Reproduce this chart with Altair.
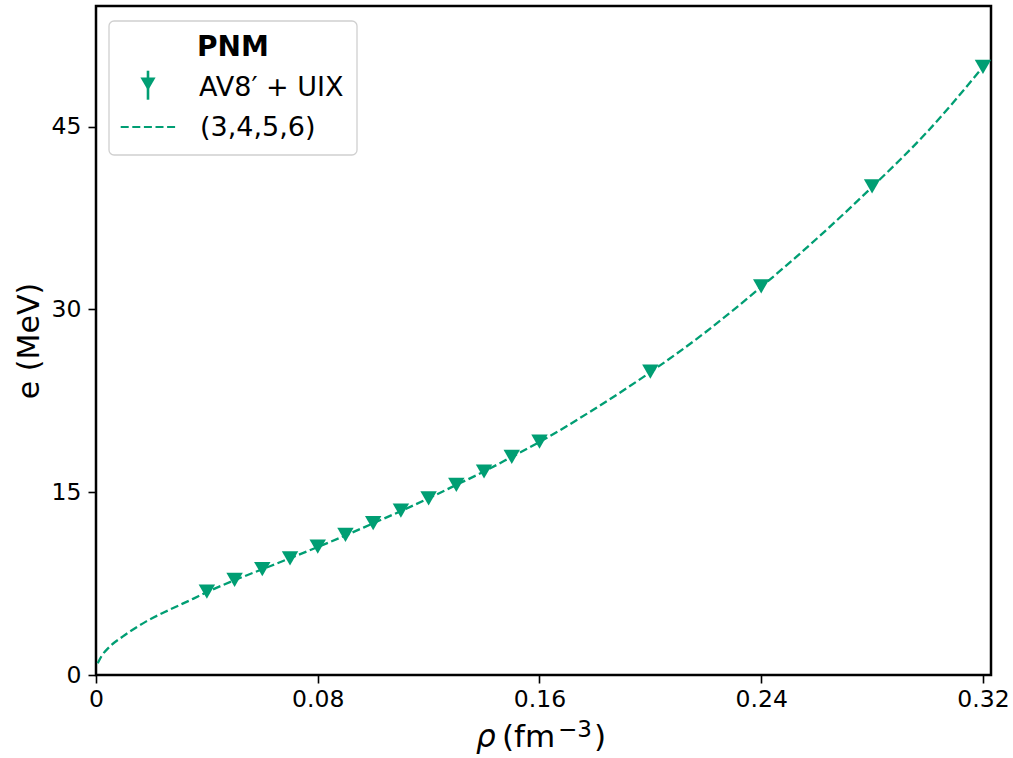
import altair as alt
import pandas as pd

# data points (AV8' + UIX, PNM)
rho_data = [0.04, 0.05, 0.06, 0.07, 0.08, 0.09, 0.10, 0.11, 0.12, 0.13, 0.14, 0.15, 0.16, 0.20, 0.24, 0.28, 0.32]
e_data = [6.85, 7.8, 8.68, 9.58, 10.53, 11.5, 12.46, 13.49, 14.5, 15.6, 16.7, 17.9, 19.15, 24.9, 31.9, 40.1, 49.9]

# fitted curve (3,4,5,6)
rho_fit = [0.0006, 0.002, 0.0048, 0.0096, 0.018, 0.0265, 0.035, 0.04, 0.05, 0.06, 0.07, 0.08, 0.09, 0.10,
           0.11, 0.12, 0.13, 0.14, 0.15, 0.16, 0.18, 0.20, 0.22, 0.24, 0.26, 0.28, 0.30, 0.32]
e_fit = [0.96, 1.55, 2.3, 3.15, 4.38, 5.35, 6.25, 6.8, 7.78, 8.68, 9.58, 10.5, 11.45, 12.45,
         13.45, 14.5, 15.6, 16.7, 17.9, 19.12, 21.85, 24.85, 28.15, 31.85, 35.8, 40.05, 44.6, 49.9]

x_ticks = [0, 0.08, 0.16, 0.24, 0.32]
y_ticks = [0, 15, 30, 45]

GREEN = "#009E73"
FONT = "DejaVu Sans"

pts = pd.DataFrame({"rho": rho_data, "e": e_data})
fit = pd.DataFrame({"rho": rho_fit, "e": e_fit})
one = pd.DataFrame({"a": [0]})

xscale = alt.Scale(domain=[0, 0.3229], nice=False, zero=False)
yscale = alt.Scale(domain=[0, 54.9], nice=False, zero=False)

xenc = alt.X("rho:Q", scale=xscale,
             axis=alt.Axis(values=x_ticks, title=None, labelFlush=False,
                           labelExpr="datum.value == 0 ? '0' : format(datum.value, '.2f')",
                           labelPadding=4))
yenc = alt.Y("e:Q", scale=yscale,
             axis=alt.Axis(values=y_ticks, title="e (MeV)", labelFlush=False,
                           labelPadding=7, titlePadding=7))

line = alt.Chart(fit).mark_line(color=GREEN, strokeWidth=2.3, strokeDash=[8, 3.6],
                                interpolate="monotone").encode(x=xenc, y=yenc)
points = alt.Chart(pts).mark_point(shape="triangle-down", filled=True, color=GREEN,
                                   size=270, opacity=1).encode(x="rho:Q", y="e:Q")


def txt(s, x, y, size=31, style="normal", weight="normal", align="left"):
    return alt.Chart(one).mark_text(text=s, font=FONT, fontSize=size, fontStyle=style,
                                    fontWeight=weight, align=align, baseline="alphabetic",
                                    color="black").encode(x=alt.value(x), y=alt.value(y))


# x-axis title: ρ (fm^-3)
xt1 = txt("ρ", 380, 741, style="italic")
xt2 = txt("(fm", 406, 741)
xt3 = txt("−3", 462, 731, size=23)
xt4 = txt(")", 498, 741)

# legend
box = alt.Chart(one).mark_rect(fill="white", fillOpacity=0.8, stroke="#d0d0d0", strokeWidth=1.3,
                               cornerRadius=5).encode(
    x=alt.value(13), x2=alt.value(261), y=alt.value(15), y2=alt.value(149))
title = txt("PNM", 137, 50, size=28, weight="bold", align="center")
ebar = alt.Chart(one).mark_rule(color=GREEN, strokeWidth=2.6).encode(
    x=alt.value(52), y=alt.value(64.7), y2=alt.value(93.7))
lmark = alt.Chart(one).mark_point(shape="triangle-down", filled=True, color=GREEN,
                                  size=230, opacity=1).encode(x=alt.value(52), y=alt.value(78))
t1 = txt("AV8′ + UIX", 103, 90, size=27)
ldash = alt.Chart(one).mark_rule(color=GREEN, strokeWidth=2.2, strokeDash=[8, 3.6]).encode(
    x=alt.value(24.7), x2=alt.value(81), y=alt.value(121))
t2 = txt("(3,4,5,6)", 104, 130, size=27)

chart = alt.layer(line, points, xt1, xt2, xt3, xt4, box, title, ebar, lmark, t1, ldash, t2).properties(
    width=895, height=669,
    autosize=alt.AutoSizeParams(type="none"),
    padding={"left": 96, "top": 6, "right": 22, "bottom": 83},
    background="white",
).configure_view(
    stroke="black", strokeWidth=2.5
).configure_axis(
    labelFont=FONT, titleFont=FONT, labelFontSize=23.5, titleFontSize=30,
    titleFontWeight="normal", labelColor="black", titleColor="black",
    tickColor="black", tickWidth=1.6, tickSize=8, domain=False, grid=False,
)

chart.save("out.html", embed_options={"renderer": "svg", "actions": False})
